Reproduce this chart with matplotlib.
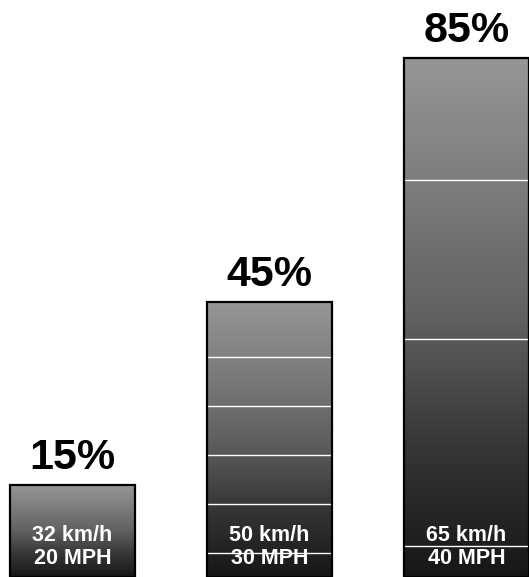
import matplotlib
matplotlib.use("Agg")
import matplotlib.pyplot as plt
import numpy as np
from matplotlib.colors import LinearSegmentedColormap

# data
speeds_kmh = ["32 km/h", "50 km/h", "65 km/h"]
speeds_mph = ["20 MPH", "30 MPH", "40 MPH"]
percents = [15, 45, 85]
pct_labels = ["15%", "45%", "85%"]
# thin white bands printed across each bar (in % units)
band_lines = [[], [4, 12, 20, 28, 36], [5, 39, 65]]

BOLD = ["Liberation Sans Narrow", "Liberation Sans", "DejaVu Sans"]


def main() -> None:
    fig = plt.figure(figsize=(5.29, 5.77), dpi=100)
    ax = fig.add_axes([0, 0, 1, 1])
    ax.axis("off")

    width = 0.635
    cmap = LinearSegmentedColormap.from_list(
        "shade", ["#161616", "#363636", "#606060", "#7c7c7c", "#969696"])
    x = np.arange(len(percents))
    bars = ax.bar(x, percents, width=width, color="none", edgecolor="black",
                  linewidth=1.6, zorder=3)

    grad = np.linspace(0, 1, 256).reshape(-1, 1)
    for i, b in enumerate(bars):
        x0, h = b.get_x(), b.get_height()
        im = ax.imshow(grad, cmap=cmap, origin="lower", aspect="auto",
                       extent=(x0, x0 + width, 0, h), zorder=1)
        im.set_clip_path(b)
        for lv in band_lines[i]:
            ax.plot([x0, x0 + width], [lv, lv], color="white", lw=1.0, zorder=2)
        ax.annotate(pct_labels[i], (x[i], h), xytext=(0, 5), textcoords="offset points",
                    ha="center", va="bottom", fontsize=31, fontweight="bold", family=BOLD)
        ax.annotate(speeds_kmh[i], (x[i], 0), xytext=(0, 22), textcoords="offset points",
                    ha="center", va="bottom", fontsize=15.5, fontweight="bold",
                    color="white", family=BOLD, zorder=4)
        ax.annotate(speeds_mph[i], (x[i], 0), xytext=(0, 6), textcoords="offset points",
                    ha="center", va="bottom", fontsize=15.5, fontweight="bold",
                    color="white", family=BOLD, zorder=4)

    ax.set_xlim(-0.368, 2.317)
    ax.set_ylim(0, 94.5)
    fig.savefig("out.png", dpi=100)


if __name__ == "__main__":
    main()
